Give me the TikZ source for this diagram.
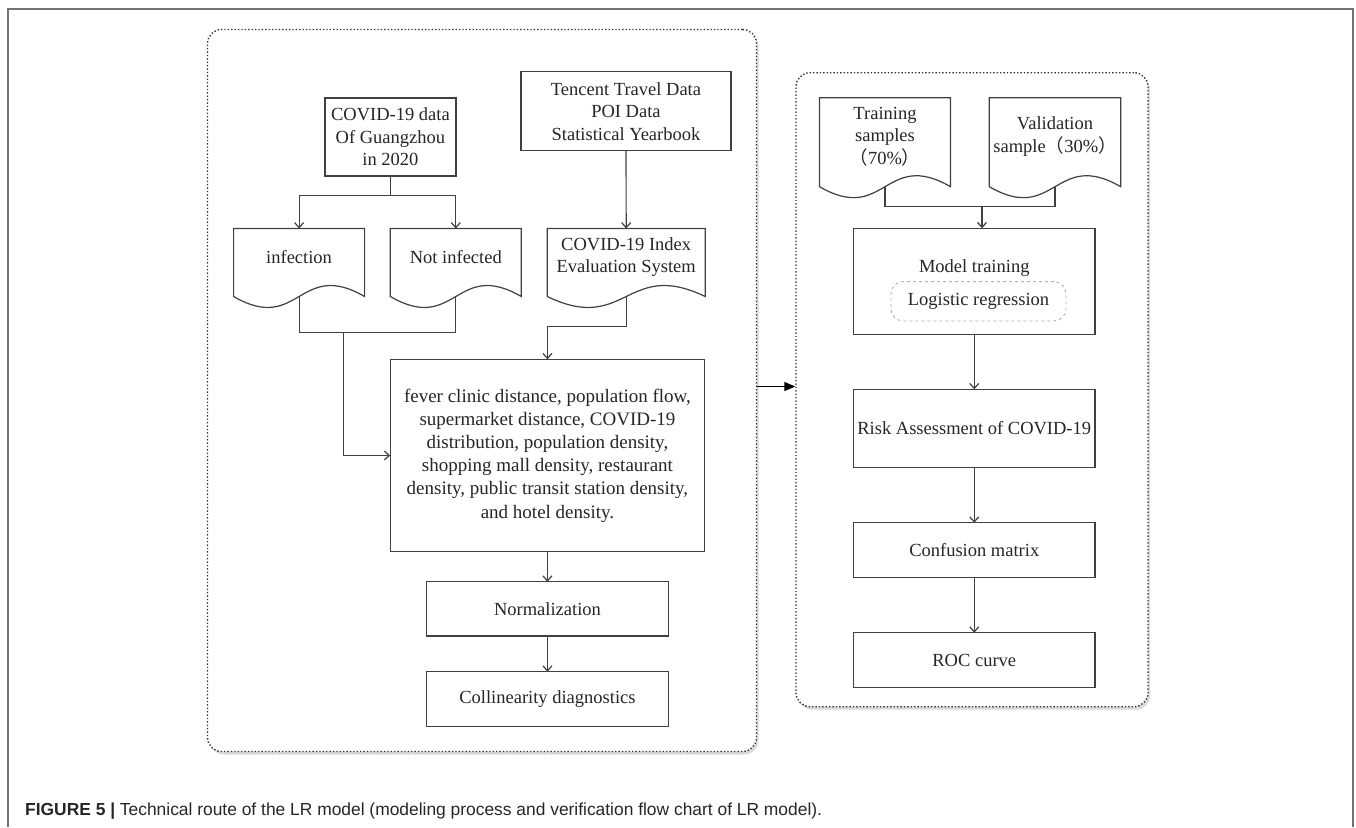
\documentclass[tikz,border=0pt]{standalone}
\usepackage{fontspec}
\setmainfont{Liberation Serif}
\newfontfamily\capfont{Liberation Sans}
\newfontfamily\cjk{Noto Sans CJK SC}
\usetikzlibrary{arrows.meta, calc, shadows}

\tikzset{
  box/.style={draw=black!75, line width=1.2pt, inner sep=0pt, outer sep=0pt, align=center,
    text=black!85, font=\fontsize{18.5}{22.5}\selectfont},
  docbox/.style={box, draw=none},
  group/.style={draw=black!80, line width=1.4pt, dotted, rounded corners=14pt, fill=white,
    drop shadow={shadow xshift=2pt, shadow yshift=-3pt, opacity=0.3}},
  logbox/.style={draw=black!30, dashed, line width=0.9pt, rounded corners=12pt, inner sep=0pt,
    text=black!85, font=\fontsize{18.5}{22.5}\selectfont},
  line/.style={draw=black!75, line width=1.2pt},
  arr/.style={line, -{Straight Barb[length=5pt,width=9pt]}},
  bigarr/.style={draw=black, line width=1.4pt, -{Triangle[length=11pt,width=9pt]}},
}

\begin{document}
\begin{tikzpicture}[x=1pt, y=-1pt]
\useasboundingbox (0,0) rectangle (1356,827);
\draw[black!55, line width=1.5pt] (8,827) -- (8,9) -- (1353,9) -- (1353,827);

% the two groups
\node[group, minimum width=549, minimum height=722] (lgrp) at (482,390.5) {};
\node[group, minimum width=352, minimum height=634] (rgrp) at (972,389.7) {};

% modelling side
\node[box, minimum width=131, minimum height=78] (cdata) at (390.4,136.9) {COVID-19 data\\Of Guangzhou\\in 2020};
\node[box, minimum width=210, minimum height=79] (tenc) at (626,111.2) {Tencent Travel Data\\POI Data\\Statistical Yearbook};
\node[docbox, minimum width=131, minimum height=57] (inf) at (299.1,257) {infection};
\node[docbox, minimum width=131, minimum height=57] (notinf) at (455.8,257) {Not infected};
\node[docbox, minimum width=158, minimum height=57] (idx) at (626.2,257) {COVID-19 Index\\Evaluation System};
\node[box, minimum width=314.5, minimum height=192.4, font=\fontsize{19}{23.2}\selectfont] (fact) at (547.45,455.5)
  {fever clinic distance, population flow,\\supermarket distance, COVID-19\\distribution, population density,\\shopping mall density, restaurant\\density, public transit station density,\\and hotel density.};
\node[box, minimum width=242, minimum height=54.3] (norm) at (547.45,608.9) {Normalization};
\node[box, minimum width=242, minimum height=55] (coll) at (547.45,699.2) {Collinearity diagnostics};

% verification side
\node[docbox, minimum width=131, minimum height=78] (train) at (885,136.7) {Training\\samples\\{\cjk （}70\%{\cjk ）}};
\node[docbox, minimum width=131.4, minimum height=78] (valid) at (1055,136.7) {Validation\\sample{\cjk （}30\%{\cjk ）}};
\node[box, minimum width=241.5, minimum height=106] (model) at (974.25,281.3) {};
\node[text=black!85, font=\fontsize{18.5}{22.5}\selectfont, inner sep=0pt] (mtxt) at (974.25,268) {Model training};
\node[logbox, minimum width=175, minimum height=39.3] (logit) at (978.5,301.3) {Logistic regression};
\node[box, minimum width=241.5, minimum height=78.4] (risk) at (974.25,428.5) {Risk Assessment of COVID-19};
\node[box, minimum width=241.5, minimum height=55] (conf) at (974.25,550.2) {Confusion matrix};
\node[box, minimum width=241.5, minimum height=55] (roc) at (974.25,660.2) {ROC curve};

% document outlines with wavy bottom
\foreach \n/\hw in {inf/65.5, notinf/65.5, idx/79, train/65.5, valid/65.7} {
  \draw[line] (\n.north west) -- (\n.north east) -- ([yshift=-11pt]\n.south east)
    .. controls +(-\hw,-38) and +(\hw,38) .. ([yshift=-11pt]\n.south west) -- cycle;
  \coordinate (\n-b) at ([yshift=-11pt]\n.south);
}

% connectors
\draw[arr] (cdata.south) -- ++(0,19.5) -| (inf.north);
\draw[arr] (cdata.south) -- ++(0,19.5) -| (notinf.north);
\draw[arr] (tenc) -- (idx);
\draw[line] (inf-b) -- ++(0,36) -| (notinf-b);
\coordinate (jl) at (343.3,332.5);
\draw[arr] (jl) |- (fact.west);
\draw[arr] (idx-b) -- ++(0,30) -| (fact.north);
\draw[arr] (fact) -- (norm);
\draw[arr] (norm) -- (coll);

\draw[line] (train-b) -- ++(0,20) -| (valid-b);
\coordinate (jr) at (982,206.7);
\draw[arr] (jr) -- (jr |- model.north);
\draw[arr] (model) -- (risk);
\draw[arr] (risk) -- (conf);
\draw[arr] (conf) -- (roc);

\draw[bigarr] ([yshift=4pt]lgrp.east) -- ([yshift=4pt]lgrp.east -| rgrp.west);

% caption
\node[anchor=west, inner sep=0pt, text=black!85, font=\capfont\fontsize{17.4}{22}\selectfont] (cap) at (25,811)
  {\textbf{FIGURE 5 |} Technical route of the LR model (modeling process and verification flow chart of LR model).};
\end{tikzpicture}
\end{document}
